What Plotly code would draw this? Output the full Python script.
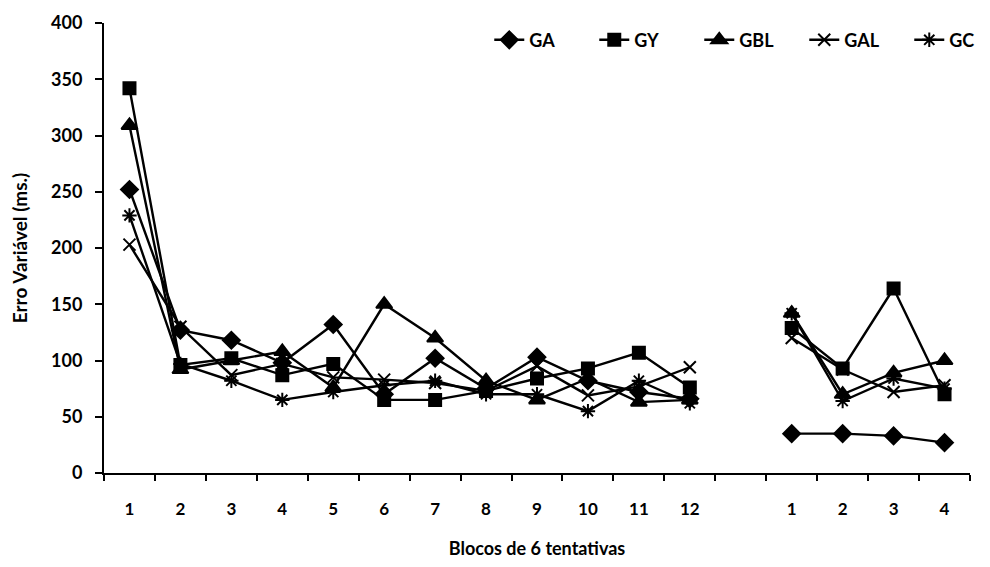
import plotly.graph_objects as go

categories = ["T1", "T2", "T3", "T4", "T5", "T6", "T7", "T8", "T9", "T10", "T11", "T12",
              "gap", "R1", "R2", "R3", "R4"]
tick_labels = ["1", "2", "3", "4", "5", "6", "7", "8", "9", "10", "11", "12",
               "", "1", "2", "3", "4"]

train_x = categories[:12]
ret_x = categories[13:]

GA = [252, 127, 118, 98, 132, 70, 102, 75, 103, 82, 72, 66]
GA_r = [35, 35, 33, 27]
GY = [342, 96, 102, 87, 97, 65, 65, 73, 84, 93, 107, 76]
GY_r = [129, 93, 164, 70]
GBL = [309, 92, 100, 108, 76, 150, 120, 82, 65, 84, 63, 65]
GBL_r = [142, 70, 89, 100]
GAL = [203, 130, 87, 97, 85, 83, 80, 73, 95, 69, 77, 94]
GAL_r = [120, 92, 72, 78]
GC = [229, 97, 82, 65, 72, 78, 82, 70, 70, 55, 82, 62]
GC_r = [142, 64, 84, 75]

series = [
    ("GA", GA, GA_r, "diamond", 13),
    ("GY", GY, GY_r, "square", 12),
    ("GBL", GBL, GBL_r, "triangle-up", 14),
    ("GAL", GAL, GAL_r, "x-thin", 12),
    ("GC", GC, GC_r, "asterisk", 12),
]

fig = go.Figure()
for name, tr, rt, sym, sz in series:
    xs = train_x + ["gap"] + ret_x
    ys = tr + [None] + rt
    fig.add_trace(go.Scatter(
        x=xs, y=ys, name=name, mode="lines+markers",
        connectgaps=False,
        line=dict(color="black", width=2.4),
        marker=dict(symbol=sym, size=sz, color="black",
                    line=dict(color="black", width=2)),
    ))

font_family = "Lato, Open Sans, sans-serif"
fig.update_layout(
    width=982, height=559,
    margin=dict(l=96, r=20, t=15, b=94, autoexpand=False),
    plot_bgcolor="white", paper_bgcolor="white",
    font=dict(family=font_family, color="black", size=17),
    legend=dict(orientation="h", x=0.748, xanchor="center", y=0.962, yanchor="middle",
                bgcolor="rgba(0,0,0,0)", font=dict(size=18, family=font_family, weight="bold"),
                entrywidth=60, entrywidthmode="pixels", tracegroupgap=0),
    showlegend=True,
)
fig.update_xaxes(
    type="category", categoryorder="array", categoryarray=categories,
    range=[-0.5, 16.5], automargin=False,
    tickmode="array", tickvals=categories, ticktext=tick_labels,
    tickson="boundaries", ticks="outside", ticklen=6, tickwidth=2, tickcolor="black",
    showline=True, linecolor="black", linewidth=2, showgrid=False, zeroline=False,
    ticklabelstandoff=20,
    tickfont=dict(size=17, family=font_family, weight="bold"),
    title=dict(text="<b>Blocos de 6 tentativas</b>", font=dict(size=18), standoff=24),
)
fig.update_yaxes(
    range=[0, 400], automargin=False,
    tickmode="array", tickvals=[0, 50, 100, 150, 200, 250, 300, 350, 400],
    ticks="outside", ticklen=7, tickwidth=2, tickcolor="black",
    showline=True, linecolor="black", linewidth=2, showgrid=False, zeroline=False,
    ticklabelstandoff=9,
    tickfont=dict(size=18, family=font_family, weight="bold"),
    title=dict(text="<b>Erro Variável (ms.)</b>", font=dict(size=19), standoff=22),
)

fig.write_html("out.html")
